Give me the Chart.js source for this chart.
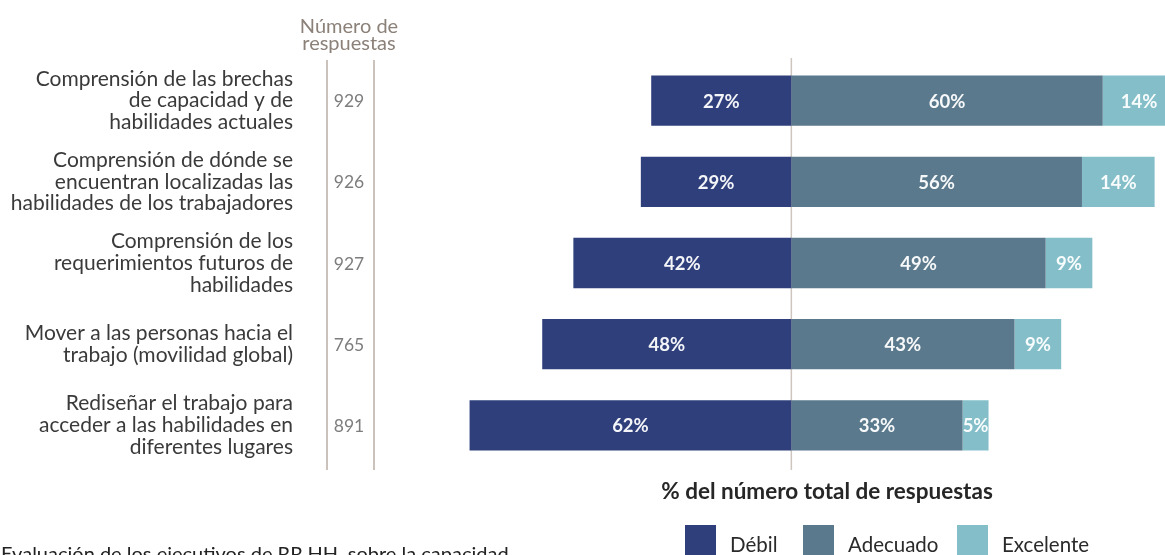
<!DOCTYPE html>
<html lang="es">
<head>
<meta charset="utf-8">
<title>Capacidades de la fuerza laboral</title>
<script src="https://cdn.jsdelivr.net/npm/chart.js@4.4.1/dist/chart.umd.min.js"></script>
<style>
  html, body { margin: 0; padding: 0; background: #fff; }
  canvas { display: block; }
</style>
</head>
<body>
<canvas id="chart" width="1165" height="555"></canvas>
<script>
// Categorías (multilínea) y número de respuestas por fila
const categories = [
  ['Comprensión de las brechas', 'de capacidad y de', 'habilidades actuales'],
  ['Comprensión de dónde se', 'encuentran localizadas las', 'habilidades de los trabajadores'],
  ['Comprensión de los', 'requerimientos futuros de', 'habilidades'],
  ['Mover a las personas hacia el', 'trabajo (movilidad global)'],
  ['Rediseñar el trabajo para', 'acceder a las habilidades en', 'diferentes lugares']
];
const responses = [929, 926, 927, 765, 891];

// % del número total de respuestas
const weak      = [27, 29, 42, 48, 62];
const adequate  = [60, 56, 49, 43, 33];
const excellent = [14, 14, 9, 9, 5];

const seriesNames  = ['Débil', 'Adecuado', 'Excelente'];
const seriesColors = ['#2f3f7b', '#5a798c', '#84bfc9'];

const FONT = 'Lato, "Open Sans", sans-serif';

// Etiquetas blancas centradas dentro de cada segmento, recortadas al segmento
const barLabels = {
  id: 'barLabels',
  afterDatasetsDraw(chart) {
    const ctx = chart.ctx;
    ctx.save();
    ctx.font = 'bold 18.5px ' + FONT;
    ctx.fillStyle = 'rgba(255,255,255,0.95)';
    ctx.textAlign = 'center';
    ctx.textBaseline = 'middle';
    chart.data.datasets.forEach((ds, di) => {
      const meta = chart.getDatasetMeta(di);
      meta.data.forEach((bar, i) => {
        const { x, y, base, height } = bar.getProps(['x', 'y', 'base', 'height'], true);
        const left = Math.min(x, base), right = Math.max(x, base);
        ctx.save();
        ctx.beginPath();
        ctx.rect(left, y - height / 2, right - left, height);
        ctx.clip();
        ctx.fillText(Math.abs(ds.data[i]) + '%', (left + right) / 2, y + 1);
        ctx.restore();
      });
    });
    ctx.restore();
  }
};

// Línea central, columna de respuestas, título del eje y leyenda
const decorations = {
  id: 'decorations',
  beforeDatasetsDraw(chart) {
    const ctx = chart.ctx;
    const zero = chart.scales.x.getPixelForValue(0);
    ctx.save();
    ctx.strokeStyle = '#cdc5be';
    ctx.lineWidth = 1.5;
    ctx.beginPath();
    ctx.moveTo(zero, 58);
    ctx.lineTo(zero, 470);
    ctx.stroke();
    ctx.restore();
  },
  afterDraw(chart) {
    const ctx = chart.ctx;
    const ys = chart.scales.y;
    ctx.save();

    // columna "Número de respuestas"
    const colCenter = 349;
    ctx.strokeStyle = '#cbc2bb';
    ctx.lineWidth = 2;
    [327, 374].forEach(px => {
      ctx.beginPath();
      ctx.moveTo(px, 60);
      ctx.lineTo(px, 470);
      ctx.stroke();
    });
    ctx.fillStyle = '#8b8179';
    ctx.font = '20px ' + FONT;
    ctx.textAlign = 'center';
    ctx.textBaseline = 'alphabetic';
    ctx.fillText('Número de', colCenter, 33);
    ctx.fillText('respuestas', colCenter, 50);

    ctx.fillStyle = '#7d7d7d';
    ctx.font = '17.5px ' + FONT;
    ctx.textBaseline = 'middle';
    responses.forEach((n, i) => {
      ctx.fillText(String(n), colCenter, ys.getPixelForValue(i) + 1);
    });

    // título del eje x
    ctx.fillStyle = '#262626';
    ctx.font = 'bold 22.5px ' + FONT;
    ctx.textBaseline = 'alphabetic';
    ctx.fillText('% del número total de respuestas', 827, 499);

    // leyenda
    ctx.font = '20.5px ' + FONT;
    ctx.textAlign = 'left';
    const boxX = [685, 803, 957];
    seriesNames.forEach((name, i) => {
      ctx.fillStyle = seriesColors[i];
      ctx.fillRect(boxX[i], 525, 31, 31);
      ctx.fillStyle = '#2a2a2a';
      ctx.fillText(name, boxX[i] + 45, 552);
    });

    // nota al pie (cortada en el borde inferior)
    ctx.fillStyle = '#222';
    ctx.font = '20px ' + FONT;
    ctx.fillText('Evaluación de los ejecutivos de RR.HH. sobre la capacidad', 1, 561);
    ctx.restore();
  }
};

new Chart(document.getElementById('chart'), {
  type: 'bar',
  data: {
    labels: categories,
    datasets: [
      { label: seriesNames[0], data: weak.map(v => -v), backgroundColor: seriesColors[0] },
      { label: seriesNames[1], data: adequate, backgroundColor: seriesColors[1] },
      { label: seriesNames[2], data: excellent, backgroundColor: seriesColors[2] }
    ]
  },
  options: {
    indexAxis: 'y',
    responsive: false,
    animation: false,
    devicePixelRatio: 1,
    layout: { padding: { top: 60, bottom: 89, left: 0, right: 0 } },
    datasets: {
      bar: { categoryPercentage: 1, barPercentage: 0.62, borderWidth: 0 }
    },
    plugins: {
      legend: { display: false },
      tooltip: { enabled: false }
    },
    scales: {
      x: {
        display: false,
        stacked: true,
        min: -65,
        max: 72
      },
      y: {
        stacked: true,
        grid: { display: false, drawTicks: false },
        border: { display: false },
        ticks: {
          padding: 161,
          color: '#3a3a3a',
          font: { family: FONT, size: 21, lineHeight: 1.04 }
        },
        afterFit(scale) {
          // ancho fijo para la columna de etiquetas; sin relleno vertical extra
          scale.width = 454;
          scale.paddingTop = 0;
          scale.paddingBottom = 0;
        }
      }
    }
  },
  plugins: [decorations, barLabels]
});
</script>
</body>
</html>
